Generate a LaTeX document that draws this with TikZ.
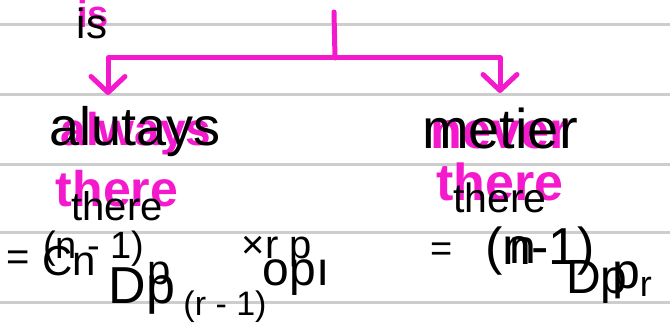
\documentclass[tikz,border=0pt]{standalone}
\usepackage{fontspec}
\setmainfont{Liberation Sans}
\usepackage{tikz}
\usetikzlibrary{arrows.meta, positioning}
\definecolor{penpink}{RGB}{245,25,205}
\definecolor{ruleline}{RGB}{205,205,205}

\begin{document}
\begin{tikzpicture}[
            x=1pt, y=-1pt,
            ocr/.style={inner sep=0pt, anchor=base, text=black},
            ink/.style={inner sep=0pt, anchor=base, text=penpink},
            scrawl/.style={inner sep=0pt, anchor=base, text=black},
            link/.style={draw=penpink, line width=5pt, line cap=round, line join=round},
            arrow/.style={link, -{Straight Barb[length=16pt, width=34pt, round]}}
        ]
            \useasboundingbox (0,0) rectangle (670,329);
            % ruled paper
            \foreach \ly in {25,95,164,232,302}
                \draw[ruleline, line width=3pt] (0,\ly) -- (670,\ly);

            % pink handwriting
            \node[ink, font=\bfseries\fontsize{38}{44}\selectfont] (isink) at (93,28) {is};
            \node[ink, font=\bfseries\fontsize{46}{56}\selectfont] (alwaysink) at (136,146) {always};
            \node[ink, font=\bfseries\fontsize{52}{60}\selectfont] (neverink) at (500,149) {never};
            \node[ink, font=\bfseries\fontsize{50}{60}\selectfont] (thereinkl) at (117,206) {there};
            \node[ink, font=\bfseries\fontsize{52}{60}\selectfont] (thereinkr) at (500,200) {there};

            \coordinate (top) at (334,12);
            \coordinate (split) at (335,58);
            \coordinate (lefttip) at (108,95);
            \coordinate (righttip) at (500,93);
            \draw[link] (top) -- (split);
            \draw[arrow] (split) -| (lefttip);
            \draw[arrow] (split) -| (righttip);

            % black handwriting
            \node[scrawl, font=\fontsize{40}{48}\selectfont] (eql) at (18,270) {=};
            \node[scrawl, font=\fontsize{38}{44}\selectfont] (nminusl) at (94,258) {(n - 1)};
            \node[scrawl, font=\fontsize{42}{48}\selectfont] (pl) at (159,284) {p};
            \node[scrawl, font=\fontsize{34}{40}\selectfont] (subl) at (225,315) {(r - 1)};
            \node[scrawl, font=\fontsize{40}{48}\selectfont] (timesrp) at (277,258) {×r p};
            \node[scrawl, font=\fontsize{38}{44}\selectfont] (eqr) at (442,261) {=};
            \node[scrawl, font=\fontsize{52}{60}\selectfont] (nminusr) at (540,264) {(n-1)};
            \node[scrawl, font=\fontsize{50}{56}\selectfont] (pr) at (632,288) {p\raisebox{-8pt}{\fontsize{36}{36}\selectfont r}};

            % recognised text
            \node[ocr, font=\fontsize{42}{48}\selectfont] (is) at (92,39) {is};
            \node[ocr, font=\fontsize{54}{60}\selectfont] (alutays) at (135,145) {alutays};
            \node[ocr, font=\fontsize{56}{64}\selectfont] (metier) at (500,148) {metier};
            \node[ocr, font=\fontsize{40}{48}\selectfont] (therel) at (117,220) {there};
            \node[ocr, font=\fontsize{41}{48}\selectfont] (therer) at (500,212) {there};
            \node[ocr, font=\fontsize{42}{48}\selectfont] (cn) at (69,275) {Cn};
            \node[ocr, font=\fontsize{52}{60}\selectfont] (dpl) at (142,303) {Dp};
            \node[ocr, font=\fontsize{48}{56}\selectfont] (opl) at (296,285) {opı};
            \node[ocr, font=\fontsize{48}{56}\selectfont] (nr) at (523,263) {n};
            \node[ocr, font=\fontsize{48}{56}\selectfont] (dpr) at (597,293) {Dp};
        \end{tikzpicture}
\end{document}
